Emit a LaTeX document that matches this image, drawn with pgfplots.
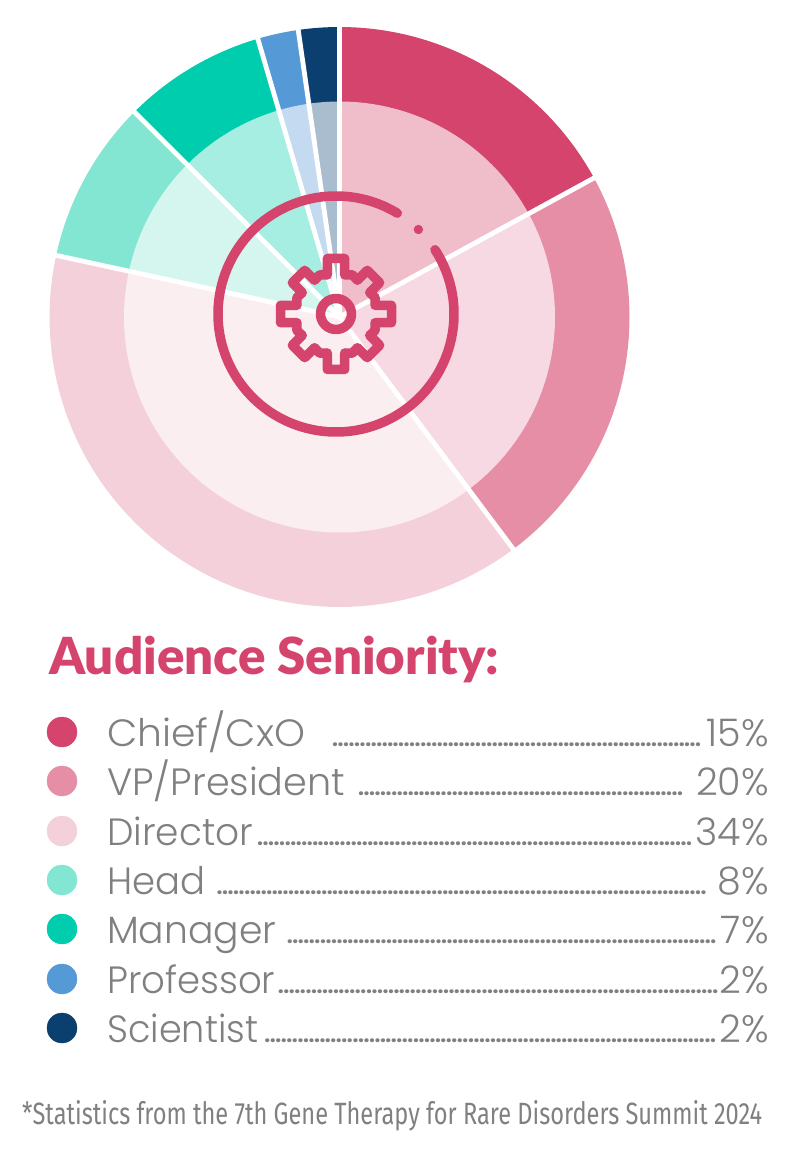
\documentclass[border=0pt]{standalone}
\usepackage{fontspec}
\usepackage{pgfplots}
\pgfplotsset{compat=1.18}
\setmainfont{Poppins}
\newfontfamily\lightfont{Poppins Light}
\newfontfamily\titlefont{Lato Black}
\newfontfamily\notefont{Fira Sans}
\definecolor{cA}{HTML}{D4446D}\definecolor{iA}{HTML}{F0BECB}
\definecolor{cB}{HTML}{E58EA6}\definecolor{iB}{HTML}{F6D9E2}
\definecolor{cC}{HTML}{F4D0DB}\definecolor{iC}{HTML}{FBEEF1}
\definecolor{cD}{HTML}{82E6D3}\definecolor{iD}{HTML}{D5F6EF}
\definecolor{cE}{HTML}{00CCAE}\definecolor{iE}{HTML}{A6EEE2}
\definecolor{cF}{HTML}{5599D6}\definecolor{iF}{HTML}{C3DAF0}
\definecolor{cG}{HTML}{0A3F70}\definecolor{iG}{HTML}{AABDCF}
\definecolor{tgrey}{HTML}{808080}
\def\total{88}
\gdef\cum{0}
% one pie slice: value, colour, radius
\newcommand\pieslice[3]{%
  \pgfmathsetmacro\aS{\cum/\total*360}%
  \pgfmathsetmacro\aE{(\cum+#1)/\total*360}%
  \gdef\pts{(339.5,317)}%
  \foreach \t in {0,...,60}{%
    \pgfmathsetmacro\ang{\aS+(\aE-\aS)*\t/60}%
    \pgfmathsetmacro\px{339.5+#3*sin(\ang)}%
    \pgfmathsetmacro\py{317-#3*cos(\ang)}%
    \xdef\pts{\pts (\px,\py)}%
  }%
  \edef\temp{\noexpand\addplot[fill=#2,draw=none,mark=none,forget plot] coordinates {\pts} -- cycle;}%
  \temp
  \pgfmathsetmacro\nc{\cum+#1}\xdef\cum{\nc}%
}
% white divider after a cumulative value
\newcommand\piesep[1]{%
  \pgfmathsetmacro\ang{#1/\total*360}%
  \pgfmathsetmacro\px{339.5+292*sin(\ang)}%
  \pgfmathsetmacro\py{317-292*cos(\ang)}%
  \edef\temp{\noexpand\addplot[white,line width=4.8pt,mark=none,forget plot] coordinates {(339.5,317) (\px,\py)};}%
  \temp
}
% name, its width, leader start, leader width
\newcommand\row[4]{{\fontsize{38}{38}\selectfont\lightfont\color{tgrey}%
  \makebox[0pt][l]{\resizebox{#2pt}{\height}{#1}}%
  \hspace*{#3pt}\cleaders\hbox to 5.5pt{\hss\rmfamily\fontsize{21}{21}\selectfont\textbf{.}\hss}\hskip #4pt\relax}}
\begin{document}
\begin{tikzpicture}[x=1pt,y=1pt]
\path (0,0) rectangle (804,1154);
\begin{axis}[at={(0,0)},anchor=south west,scale only axis,width=804pt,height=1154pt,
  xmin=0,xmax=804,ymin=0,ymax=1154,y dir=reverse,hide axis,clip=false]
\pieslice{15}{cA}{290}\pieslice{20}{cB}{290}\pieslice{34}{cC}{290}\pieslice{8}{cD}{290}\pieslice{7}{cE}{290}\pieslice{2}{cF}{290}\pieslice{2}{cG}{290}
\gdef\cum{0}
\pieslice{15}{iA}{215.5}\pieslice{20}{iB}{215.5}\pieslice{34}{iC}{215.5}\pieslice{8}{iD}{215.5}\pieslice{7}{iE}{215.5}\pieslice{2}{iF}{215.5}\pieslice{2}{iG}{215.5}
\piesep{0}\piesep{15}\piesep{35}\piesep{69}\piesep{77}\piesep{84}\piesep{86}
\addplot[only marks,mark=*,mark size=15pt,color=cA,forget plot] coordinates {(62,732)};
\addplot[only marks,mark=*,mark size=15pt,color=cB,forget plot] coordinates {(62,781)};
\addplot[only marks,mark=*,mark size=15pt,color=cC,forget plot] coordinates {(62,831)};
\addplot[only marks,mark=*,mark size=15pt,color=cD,forget plot] coordinates {(62,880)};
\addplot[only marks,mark=*,mark size=15pt,color=cE,forget plot] coordinates {(62,929)};
\addplot[only marks,mark=*,mark size=15pt,color=cF,forget plot] coordinates {(62,979)};
\addplot[only marks,mark=*,mark size=15pt,color=cG,forget plot] coordinates {(62,1028)};
\end{axis}
% title
\node[anchor=base west,inner sep=0pt,text=cA] at (49,1154-675) {\resizebox{450pt}{!}{\titlefont Audience Seniority:}};
% legend rows: name and leader
\node[anchor=base west,inner sep=0pt] at (107,1154-747) {\row{Chief/CxO}{198}{223}{373}};
\node[anchor=base west,inner sep=0pt] at (107,1154-796) {\row{VP/President}{238}{251}{325}};
\node[anchor=base west,inner sep=0pt] at (107,1154-846) {\row{Director}{146}{149}{437}};
\node[anchor=base west,inner sep=0pt] at (107,1154-895) {\row{Head}{98}{108}{493}};
\node[anchor=base west,inner sep=0pt] at (107,1154-944) {\row{Manager}{169}{180}{429}};
\node[anchor=base west,inner sep=0pt] at (107,1154-994) {\row{Professor}{168}{171}{440}};
\node[anchor=base west,inner sep=0pt] at (107,1154-1043) {\row{Scientist}{151}{155}{456}};
% percent labels, right aligned
\foreach \y/\p in {747/15,796/20,846/34,895/8,944/7,994/2,1043/2}{
  \node[anchor=base east,inner sep=0pt,text=tgrey] at (769,1154-\y) {\fontsize{38}{38}\selectfont\lightfont \p\%};
}
% footnote
\node[anchor=base west,inner sep=0pt,text=tgrey] at (22,1154-1124) {\resizebox{740pt}{24pt}{\notefont *Statistics from the 7th Gene Therapy for Rare Disorders Summit 2024}};
% gear icon
\begin{scope}[shift={(336,840)},line width=9.5pt,draw=cA,line join=round,line cap=round]
\draw (33:118) arc[start angle=33,end angle=-301.3,radius=118];
\fill[cA] (45.7:118) circle (4.7);
\draw (0,0) circle (15.5);
\draw ([rotate=0]39,-8.7)
 \foreach \a/\r in {0/55.5,45/53,90/55.5,135/53,180/55.5,225/53,270/55.5,315/53}{
   -- ([rotate=\a]39,-8.7) -- ([rotate=\a]\r,-8.7) -- ([rotate=\a]\r,8.7) -- ([rotate=\a]39,8.7) -- ([rotate=\a+22.5]42.5,0)
 } -- cycle;
\end{scope}
\end{tikzpicture}
\end{document}
